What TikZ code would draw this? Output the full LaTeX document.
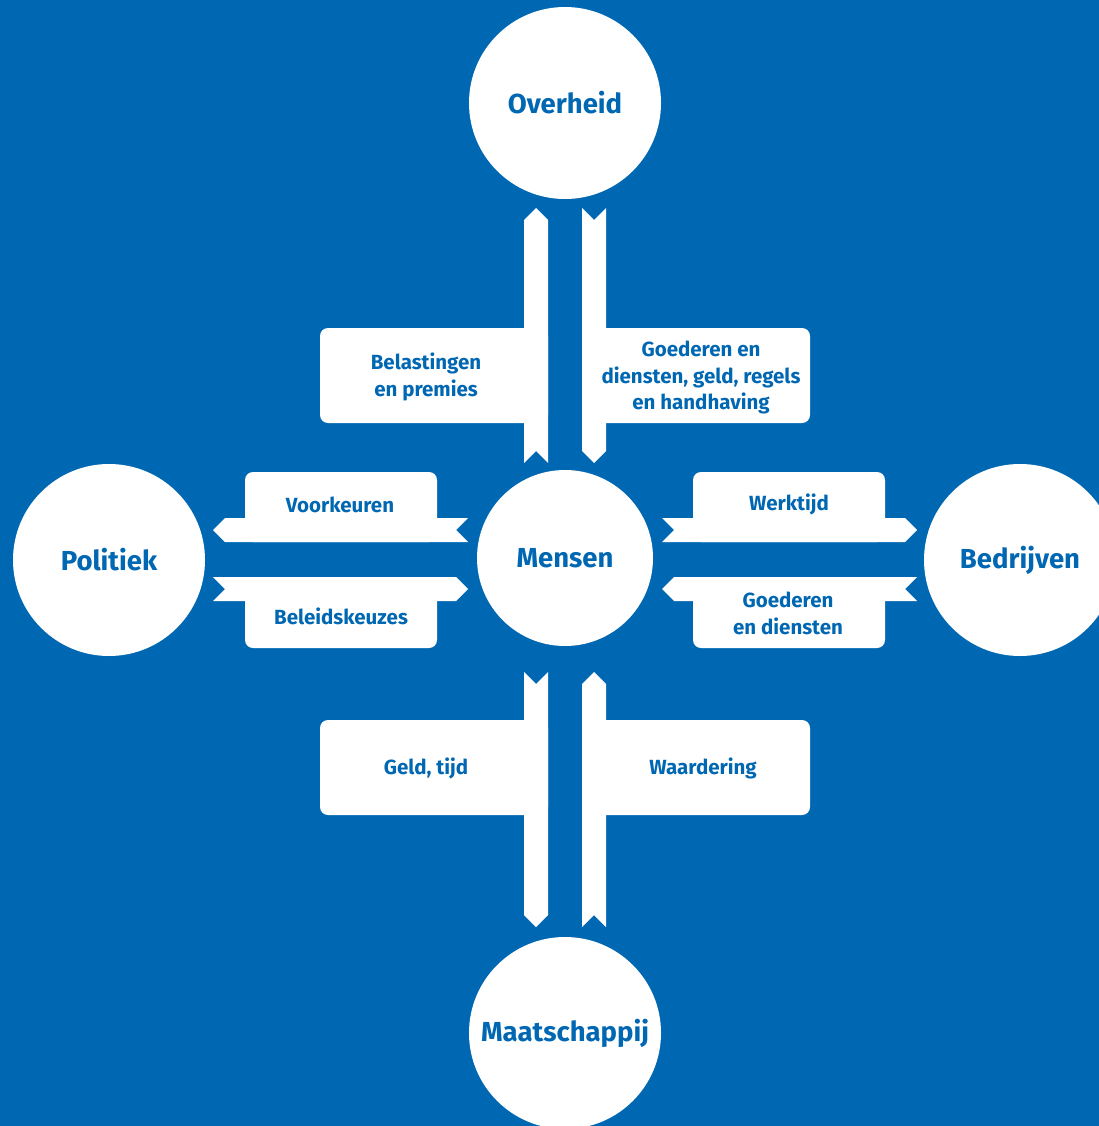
\documentclass[tikz,border=0pt]{standalone}
\usepackage{fontspec}
\setmainfont{Fira Sans}
\definecolor{bg}{RGB}{0,103,178}
\newcommand\myupstrip[3]{% x1, top, bottom
  \fill[white] ({#1+12},#2) -- ({#1+24},{#2+12}) -- ({#1+24},#3) -- ({#1+12},{#3-12}) -- (#1,#3) -- (#1,{#2+12}) -- cycle;}
\newcommand\mydownstrip[3]{% x1, top, bottom
  \fill[white] (#1,#2) -- ({#1+12},{#2+12}) -- ({#1+24},#2) -- ({#1+24},{#3-12}) -- ({#1+12},#3) -- (#1,{#3-12}) -- cycle;}
\newcommand\myleftstrip[3]{% y1, left, right
  \fill[white] (#2,{#1+12}) -- ({#2+12},#1) -- (#3,#1) -- ({#3-12},{#1+12}) -- (#3,{#1+24}) -- ({#2+12},{#1+24}) -- cycle;}
\newcommand\myrightstrip[3]{% y1, left, right
  \fill[white] (#2,#1) -- ({#3-12},#1) -- (#3,{#1+12}) -- ({#3-12},{#1+24}) -- (#2,{#1+24}) -- ({#2+12},{#1+12}) -- cycle;}
\begin{document}
\begin{tikzpicture}[x=1pt,y=-1pt,
  bigcircle/.style={circle,fill=white,inner sep=0pt,text=bg,font=\fontsize{27.5}{32}\selectfont\bfseries},
  labelbox/.style={fill=white,rounded corners=8pt},
  lbl/.style={text=bg,align=center,inner sep=0pt,font=\fontsize{20.5}{26.8}\selectfont\bfseries}]
\useasboundingbox (0,0) rectangle (1099,1126);
\clip (0,0) rectangle (1099,1126);
\fill[bg] (0,0) rectangle (1099,1126);
% circles
\node[bigcircle,minimum size=192pt] (overheid) at (565,103) {Overheid};
\node[bigcircle,minimum size=176pt] (mensen) at (565,558) {Mensen};
\node[bigcircle,minimum size=192pt] (politiek) at (109,560) {Politiek};
\node[bigcircle,minimum size=192pt] (bedrijven) at (1020,560) {Bedrijven};
\node[bigcircle,minimum size=192pt] (maatschappij) at (565,1033) {Maatschappij};
% boxes
\fill[labelbox] (320,328) rectangle (548,423);
\fill[labelbox] (582,328) rectangle (810,423);
\fill[labelbox] (245,472) rectangle (437,542);
\fill[labelbox] (245,577) rectangle (437,648);
\fill[labelbox] (693,472) rectangle (885,542);
\fill[labelbox] (693,577) rectangle (885,648);
\fill[labelbox] (320,720) rectangle (548,815);
\fill[labelbox] (582,720) rectangle (810,815);
% strips
\myupstrip{524}{208}{463}
\mydownstrip{582}{208}{463}
\mydownstrip{524}{672}{927}
\myupstrip{582}{672}{927}
\myleftstrip{518}{213}{468}
\myrightstrip{577}{213}{468}
\myrightstrip{518}{662}{917}
\myleftstrip{577}{662}{917}
% labels
\node[lbl] (belasting) at (426,377) {Belastingen\\en premies};
\node[lbl] (goederen1) at (701,377.5) {Goederen en\\diensten, geld, regels\\en handhaving};
\node[lbl] (voorkeuren) at (340,504.5) {Voorkeuren};
\node[lbl] (beleid) at (341,616) {Beleidskeuzes};
\node[lbl] (werktijd) at (789,504.5) {Werktijd};
\node[lbl] (goederen2) at (788,613.5) {Goederen\\en diensten};
\node[lbl] (geld) at (426,768.5) {Geld, tijd};
\node[lbl] (waardering) at (703,768.5) {Waardering};
\end{tikzpicture}
\end{document}
